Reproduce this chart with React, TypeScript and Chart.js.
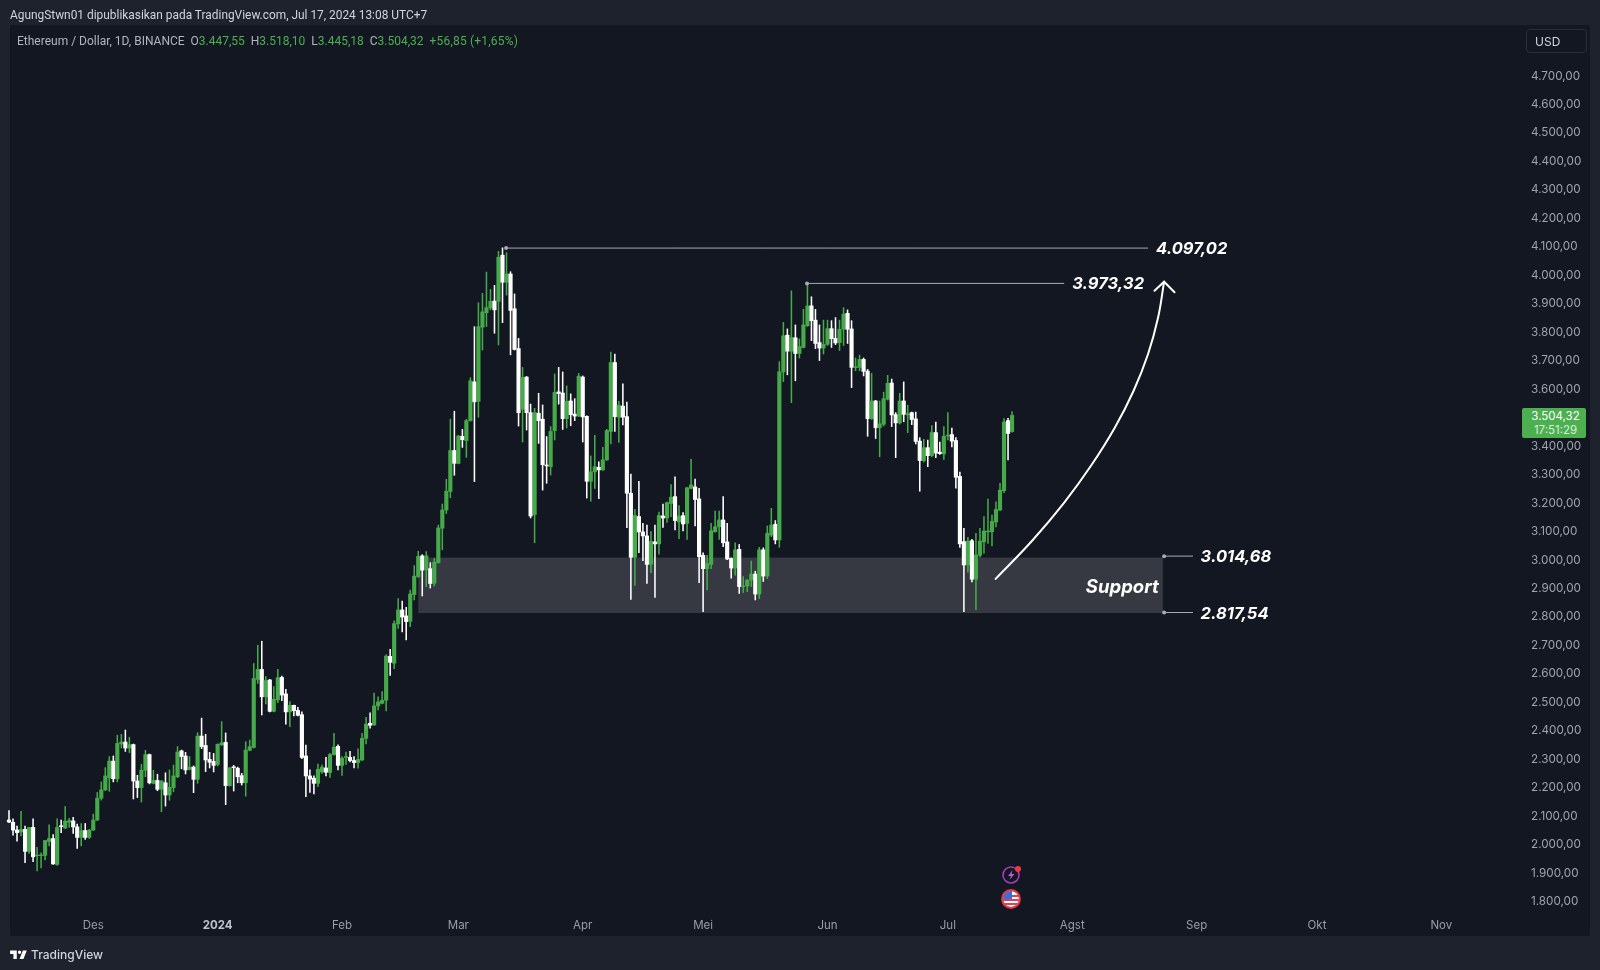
import React, { useEffect, useRef } from "react";
import { Chart, registerables } from "chart.js";

Chart.register(...registerables);

const opens = [
  2083,2075,2048,2041,2050,1973,2057,1958,1958,1959,
  2008,2018,1927,2063,2055,2076,2080,2059,2022,2046,
  2022,2048,2083,2160,2189,2231,2290,2228,2350,2357,
  2336,2348,2220,2197,2258,2313,2212,2222,2191,2214,
  2171,2197,2235,2326,2308,2261,2269,2226,2378,2345,
  2296,2289,2278,2347,2356,2204,2270,2265,2239,2214,
  2328,2338,2577,2612,2516,2575,2465,2505,2584,2526,
  2463,2486,2468,2453,2308,2238,2230,2212,2252,2266,
  2250,2313,2342,2275,2303,2303,2292,2285,2294,2370,
  2423,2417,2484,2493,2504,2658,2634,2772,2821,2800,
  2781,2875,2938,3011,2962,2966,2915,2987,3108,3172,
  3237,3381,3336,3431,3416,3486,3622,3554,3814,3865,
  3882,3906,3905,4067,3972,4001,3879,3739,3526,3639,
  3514,3156,3512,3491,3330,3324,3451,3587,3583,3493,
  3555,3509,3502,3639,3501,3273,3306,3322,3313,3348,
  3448,3690,3498,3537,3500,3231,3006,3149,3095,3081,
  2981,3060,3053,3151,3144,3195,3219,3130,3152,3125,
  3248,3253,3211,3013,2966,2981,3096,3113,3137,3060,
  3002,2968,3034,2903,2905,2926,2947,2877,3032,2940,
  3084,3122,3067,3657,3786,3730,3777,3722,3743,3819,
  3889,3839,3760,3741,3754,3809,3775,3760,3807,3863,
  3808,3672,3673,3701,3660,3493,3555,3461,3473,3561,
  3618,3507,3478,3555,3506,3514,3492,3414,3345,3391,
  3363,3444,3375,3369,3432,3437,3416,3290,3061,2979,
  3064,2929,3013,3060,3095,3096,3130,3172,3240,3486,
  3447.55,
];
const highs = [
  2116,2087,2062,2114,2062,2057,2087,1987,1968,2011,
  2066,2032,2087,2083,2130,2089,2093,2069,2071,2071,
  2050,2104,2180,2217,2267,2306,2308,2381,2384,2399,
  2374,2350,2240,2279,2328,2315,2258,2244,2222,2249,
  2259,2276,2341,2329,2321,2306,2273,2390,2441,2384,
  2321,2317,2351,2429,2389,2268,2275,2269,2247,2358,
  2364,2633,2697,2711,2587,2577,2552,2612,2589,2542,
  2499,2487,2479,2463,2346,2259,2238,2280,2276,2303,
  2317,2388,2347,2306,2322,2324,2306,2333,2388,2444,
  2460,2529,2516,2534,2663,2683,2783,2861,2852,2830,
  2891,2977,3027,3015,3026,2987,3002,3119,3193,3280,
  3491,3519,3434,3455,3491,3637,3816,3900,3933,4008,
  3947,3961,4081,4093,4076,4009,3931,3775,3673,3641,
  3544,3529,3582,3541,3430,3465,3650,3673,3657,3608,
  3580,3563,3652,3643,3503,3362,3434,3341,3392,3455,
  3727,3720,3554,3615,3551,3298,3174,3273,3125,3119,
  3096,3119,3165,3193,3200,3261,3289,3188,3163,3252,
  3350,3281,3248,3022,3013,3125,3168,3168,3219,3125,
  3004,3057,3051,2938,2928,2993,2957,3041,3039,3116,
  3178,3135,3693,3831,3808,3942,3822,3773,3877,3968,
  3921,3877,3822,3839,3839,3837,3848,3839,3883,3875,
  3837,3706,3716,3706,3666,3652,3557,3555,3586,3645,
  3632,3514,3582,3622,3540,3516,3516,3426,3420,3418,
  3469,3481,3411,3465,3514,3460,3426,3305,3108,3076,
  3069,3090,3108,3149,3210,3154,3201,3266,3493,3494,
  3518.1,
];
const lows = [
  2074,2030,2009,2027,1933,1966,1937,1904,1915,1943,
  1992,1927,1924,2039,2053,2057,2036,1983,1992,2015,
  2018,2046,2081,2153,2186,2184,2217,2217,2336,2324,
  2320,2157,2162,2146,2235,2210,2210,2186,2112,2132,
  2153,2182,2232,2263,2245,2259,2179,2212,2334,2253,
  2266,2252,2273,2345,2137,2202,2185,2214,2206,2167,
  2326,2336,2563,2452,2491,2463,2463,2495,2502,2420,
  2411,2449,2449,2299,2165,2180,2175,2200,2247,2238,
  2233,2311,2259,2240,2278,2287,2266,2265,2292,2350,
  2406,2415,2470,2491,2466,2591,2615,2756,2744,2716,
  2762,2856,2935,2870,2903,2898,2905,2985,3032,3160,
  3215,3294,3334,3392,3357,3484,3272,3498,3734,3816,
  3875,3793,3752,3830,3927,3717,3734,3467,3411,3453,
  3144,3057,3406,3242,3266,3295,3418,3544,3455,3460,
  3468,3486,3500,3411,3214,3203,3248,3212,3311,3346,
  3404,3448,3409,3471,3110,2858,2907,3022,2994,2914,
  2952,2865,3017,3111,3128,3149,3102,3071,3099,3069,
  3246,3116,2917,2815,2891,2966,3094,3069,3043,2998,
  2933,2943,2879,2882,2885,2903,2856,2861,2921,2931,
  3078,3053,3041,3623,3647,3549,3626,3706,3741,3817,
  3767,3739,3697,3720,3750,3743,3753,3732,3750,3757,
  3602,3661,3661,3643,3431,3490,3423,3359,3467,3558,
  3465,3356,3474,3482,3444,3472,3404,3238,3341,3324,
  3359,3356,3367,3350,3418,3394,3249,3041,2815,2954,
  2919,2822,3006,3020,3055,3046,3113,3170,3233,3348,
  3445.18,
];
const closes = [
  2076,2048,2039,2050,1973,2057,1954,1960,1960,2011,
  2018,1929,2057,2060,2079,2081,2059,2022,2046,2022,
  2048,2083,2160,2189,2238,2290,2228,2352,2357,2336,
  2348,2220,2197,2258,2313,2214,2222,2191,2220,2171,
  2198,2238,2322,2306,2259,2269,2226,2378,2341,2294,
  2286,2275,2349,2354,2204,2266,2267,2235,2214,2329,
  2341,2580,2612,2516,2573,2465,2507,2583,2522,2463,
  2486,2467,2451,2303,2238,2227,2212,2261,2268,2251,
  2313,2339,2275,2300,2306,2292,2285,2296,2370,2420,
  2416,2484,2498,2504,2659,2637,2773,2821,2796,2780,
  2877,2940,3009,2961,3011,2914,2989,3109,3172,3238,
  3381,3336,3432,3419,3486,3626,3552,3816,3868,3883,
  3905,3875,4060,3972,4001,3873,3736,3514,3638,3514,
  3151,3514,3486,3331,3327,3448,3585,3581,3493,3554,
  3507,3502,3642,3499,3273,3306,3324,3313,3348,3451,
  3690,3500,3540,3498,3231,3006,3153,3095,3081,2981,
  3062,3053,3153,3144,3198,3217,3135,3151,3123,3250,
  3260,3209,3008,2966,2984,3099,3113,3137,3057,3000,
  2968,3032,2903,2905,2926,2947,2877,3032,2940,3090,
  3119,3067,3657,3784,3730,3778,3722,3746,3822,3889,
  3837,3757,3741,3754,3809,3774,3759,3807,3860,3807,
  3673,3675,3701,3659,3493,3555,3461,3475,3563,3617,
  3506,3478,3555,3508,3510,3490,3413,3346,3391,3363,
  3444,3372,3370,3431,3435,3414,3287,3053,2979,3063,
  2929,3014,3063,3098,3098,3132,3174,3242,3481,3441,
  3504.32,
];

// x axis: trading days counted from the first candle
const monthTicks = [21, 52, 83, 112, 143, 173, 204, 234, 265, 296, 326, 357];
const monthLabels = ["Des", "2024", "Feb", "Mar", "Apr", "Mei", "Jun", "Jul", "Agst", "Sep", "Okt", "Nov"];
const priceTicks = [
  1800, 1900, 2000, 2100, 2200, 2300, 2400, 2500, 2600, 2700, 2800, 2900, 3000, 3100, 3200,
  3300, 3400, 3500, 3600, 3700, 3800, 3900, 4000, 4100, 4200, 4300, 4400, 4500, 4600, 4700,
];

// drawings on the chart, in day / price units
const supportZoneX = [102, 287.6];
const supportZoneY = [2810, 3005];
const topLevelX = [123.9, 283.9];
const topLevelY = [4092, 4092];
const secondLevelX = [198.9, 263];
const secondLevelY = [3968, 3968];
const supportTopX = [287.9, 295.1];
const supportTopY = [3010, 3010];
const supportBottomX = [287.9, 295.1];
const supportBottomY = [2812, 2812];
const arrowX = [245.9, 255.0, 263.0, 269.8, 275.6, 280.3, 283.9, 286.4, 287.9];
const arrowY = [2930, 3064, 3198, 3330, 3461, 3591, 3720, 3848, 3974];
const arrowHeadX = [285.5, 287.9, 290.5];
const arrowHeadY = [3942, 3974, 3937];
const labelTexts = ["4.097,02", "3.973,32", "3.014,68", "2.817,54", "Support"];
const labelX = [285.9, 265, 297, 297, 268.4];
const labelY = [4088, 3964, 3006, 2808, 2901];

const GREEN = "#46a94a";
const WHITE = "#ffffff";
const PANEL = "#131722";
const OUTER = "#1e222d";
const FONT = "Inter, 'Liberation Sans', sans-serif";
const TEXT_FONT = "Roboto, 'Liberation Sans', sans-serif";

const formatPrice = (v: number) => {
  const s = String(Math.round(v));
  return s.length > 3 ? `${s.slice(0, -3)}.${s.slice(-3)},00` : `${s},00`;
};

const xy = (xs: number[], ys: number[]) => xs.map((x, i) => ({ x, y: ys[i] }));

const overlay = {
  id: "overlay",
  beforeDraw(chart: any) {
    // nudge the price labels down one pixel, as in the reference
    const yScale = chart.scales.y;
    if (yScale._nudged === yScale._labelItems && yScale._nudged) return;
    const items = yScale.getLabelItems();
    items.forEach((it: any) => {
      it.options.translation[1] += 1;
    });
    yScale._nudged = items;
  },
  beforeDatasetsDraw(chart: any) {
    const { ctx, scales } = chart;
    const x0 = scales.x.getPixelForValue(supportZoneX[0]);
    const x1 = scales.x.getPixelForValue(supportZoneX[1]);
    const y0 = scales.y.getPixelForValue(supportZoneY[1]);
    const y1 = scales.y.getPixelForValue(supportZoneY[0]);
    ctx.save();
    ctx.fillStyle = "rgba(255,255,255,0.15)";
    ctx.fillRect(x0, y0, x1 - x0, y1 - y0);
    ctx.restore();
  },
  afterDatasetsDraw(chart: any) {
    const { ctx, scales } = chart;
    ctx.save();
    ctx.fillStyle = "#ffffff";
    ctx.textBaseline = "middle";
    ctx.textAlign = "left";
    labelTexts.forEach((t, i) => {
      ctx.font = `italic 700 ${t === "Support" ? 18.5 : 16.5}px ${FONT}`;
      ctx.fillText(t, scales.x.getPixelForValue(labelX[i]), scales.y.getPixelForValue(labelY[i]));
    });
    ctx.restore();
  },
};

const levelLine = (xs: number[], ys: number[]) => ({
  type: "line" as const,
  data: xy(xs, ys),
  order: 0,
  borderColor: "#a9abb3",
  borderWidth: 1,
  pointRadius: [2, 0],
  pointBackgroundColor: "#a9abb3",
  pointBorderWidth: 0,
  clip: false,
});

export default function App() {
  const ref = useRef<HTMLCanvasElement | null>(null);

  useEffect(() => {
    if (!ref.current) return;
    const colors = closes.map((c, i) => (c >= opens[i] ? GREEN : WHITE));
    const chart = new Chart(ref.current, {
      type: "bar",
      data: {
        datasets: [
          {
            type: "line",
            data: xy(arrowX, arrowY),
            order: 0,
            borderColor: "#ffffff",
            borderWidth: 2,
            tension: 0.4,
            pointRadius: 0,
            borderCapStyle: "round",
            clip: false,
          },
          {
            type: "line",
            data: xy(arrowHeadX, arrowHeadY),
            order: 0,
            borderColor: "#ffffff",
            borderWidth: 2,
            pointRadius: 0,
            borderCapStyle: "round",
            clip: false,
          },
          levelLine(topLevelX, topLevelY),
          levelLine(secondLevelX, secondLevelY),
          levelLine(supportTopX, supportTopY),
          levelLine(supportBottomX, supportBottomY),
          {
            type: "bar",
            data: opens.map((o, i) => ({ x: i, y: [o, closes[i]] })),
            order: 1,
            grouped: false,
            barThickness: 3.5,
            backgroundColor: colors,
            borderWidth: 0,
            clip: false,
          },
          {
            type: "bar",
            data: highs.map((h, i) => ({ x: i, y: [lows[i], h] })),
            order: 2,
            grouped: false,
            barThickness: 0.9,
            backgroundColor: colors,
            borderWidth: 0,
            clip: false,
          },
        ] as any,
      },
      options: {
        animation: false,
        responsive: false,
        events: [],
        layout: { padding: { left: 9, top: 26, bottom: 34, right: 0 } },
        plugins: { legend: { display: false }, tooltip: { enabled: false } },
        scales: {
          x: {
            type: "linear",
            offset: false,
            min: 0,
            max: 377.1,
            grid: { display: false, drawTicks: false, offset: false },
            border: { display: false },
            afterFit: (s: any) => {
              s.height = 21;
            },
            afterBuildTicks: (s: any) => {
              s.ticks = monthTicks.map((value) => ({ value }));
            },
            ticks: {
              autoSkip: false,
              maxRotation: 0,
              padding: 4,
              callback: (v: any) => monthLabels[monthTicks.indexOf(Number(v))],
              color: (c: any) => (c.index === 1 ? "#c0c3cb" : "#9a9da6"),
              font: (c: any) => ({ family: FONT, size: 11.5, weight: c.index === 1 ? "700" : "400" }),
            },
          },
          y: {
            type: "linear",
            position: "right",
            min: 1749.5,
            max: 4872.1,
            grid: { display: false, drawTicks: false },
            border: { display: false },
            afterFit: (s: any) => {
              s.width = 78;
            },
            afterBuildTicks: (s: any) => {
              s.ticks = priceTicks.map((value) => ({ value }));
            },
            ticks: {
              autoSkip: false,
              padding: 9,
              callback: (v: any) => formatPrice(Number(v)),
              color: "#a0a3ab",
              font: { family: FONT, size: 11.7 },
            },
          },
        },
      },
      plugins: [overlay],
    } as any);
    return () => chart.destroy();
  }, []);

  const legendStyle: React.CSSProperties = {
    position: "absolute",
    left: 17,
    top: 34,
    font: `12px ${TEXT_FONT}`,
    color: "#b2b5be",
    whiteSpace: "pre",
  };
  const g = (t: string, ls = 0) => <span style={{ color: "#4caf50", letterSpacing: ls }}>{t}</span>;

  return (
    <div style={{ position: "fixed", left: 0, top: 0, width: 1600, height: 970, background: OUTER, overflow: "hidden" }}>
      <div style={{ position: "absolute", left: 10, top: 25, width: 1580, height: 911, background: PANEL, borderRadius: 2 }} />
      <canvas ref={ref} width={1600} height={970} style={{ position: "absolute", left: 0, top: 0, width: 1600, height: 970 }} />
      <div style={{ position: "absolute", left: 10, top: 8, font: `11.9px ${TEXT_FONT}`, color: "#d1d4dc", whiteSpace: "pre" }}>
        AgungStwn01 dipublikasikan pada TradingView.com, Jul 17, 2024 13:08 UTC+7
      </div>
      <div style={legendStyle}>
        {"Ethereum / Dollar, 1D, BINANCE  O"}{g("3.447,55")}{"  H"}{g("3.518,10")}{"  L"}{g("3.445,18")}{"  C"}{g("3.504,32")}{"  "}{g("+56,85 (+1,65%)", 0.2)}
      </div>
      <div style={{ position: "absolute", left: 1526, top: 29, width: 61, height: 24, boxSizing: "border-box", border: "1px solid #2a2e39", borderRadius: 4, font: `12px/24px ${FONT}`, color: "#d1d4dc", paddingLeft: 8 }}>
        USD
      </div>
      <div style={{ position: "absolute", left: 1522, top: 408, width: 64, height: 30, background: "#4caf50", borderRadius: 2, textAlign: "center", font: `11.5px/14px ${FONT}`, color: "#ffffff", paddingTop: 1, paddingLeft: 3, boxSizing: "border-box" }}>
        3.504,32
        <br />
        <span style={{ color: "#d6eed7" }}>17:51:29</span>
      </div>
      <svg style={{ position: "absolute", left: 999, top: 862, width: 26, height: 50 }} viewBox="0 0 26 50">
        <circle cx="12" cy="13" r="8" fill="none" stroke="#9c3fb5" strokeWidth="1.6" />
        <path d="M13.5 8 L9 14 H12 L10.5 18 L15.5 12 H12.5 Z" fill="#b45ccb" />
        <circle cx="19" cy="7" r="3" fill="#f23645" />
        <clipPath id="flag"><circle cx="12" cy="37" r="8" /></clipPath>
        <g clipPath="url(#flag)">
          <rect x="4" y="29" width="16" height="16" fill="#ffffff" />
          <rect x="4" y="33" width="16" height="2" fill="#e04050" />
          <rect x="4" y="37" width="16" height="2" fill="#e04050" />
          <rect x="4" y="41" width="16" height="2" fill="#e04050" />
          <rect x="4" y="29" width="9" height="8" fill="#3a6fd8" />
        </g>
        <circle cx="12" cy="37" r="9" fill="none" stroke="#f23645" strokeWidth="1.8" />
      </svg>
      <svg style={{ position: "absolute", left: 9, top: 947, width: 20, height: 16 }} viewBox="0 0 36 28">
        <path fill="#ffffff" d="M14 6H2v6h6v9h6V6zm12 15h-7l6-15h7l-6 15zm-7-9a3 3 0 1 0 0-6 3 3 0 0 0 0 6z" />
      </svg>
      <div style={{ position: "absolute", left: 31, top: 947, font: `500 12px ${FONT}`, color: "#d1d4dc" }}>TradingView</div>
    </div>
  );
}
